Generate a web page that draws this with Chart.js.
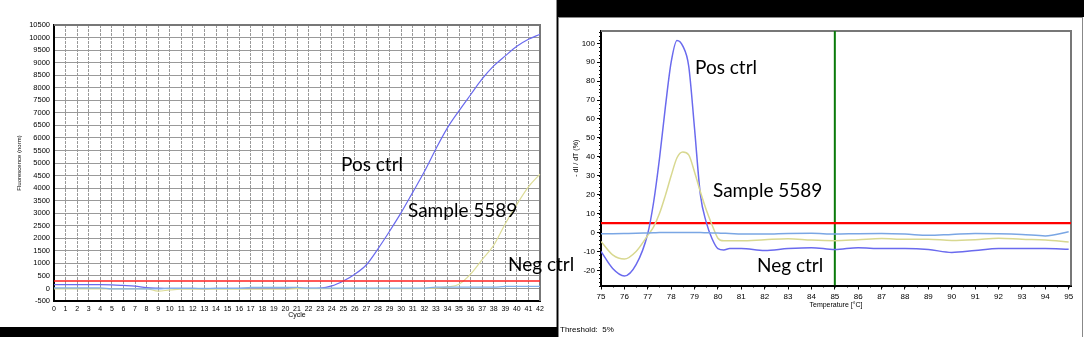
<!DOCTYPE html>
<html>
<head>
<meta charset="utf-8">
<script src="https://cdn.jsdelivr.net/npm/chart.js"></script>
<style>
  html, body { margin: 0; padding: 0; background: #000; width: 1084px; height: 337px; overflow: hidden; }
  #leftPanel { position: absolute; left: 0; top: 0; width: 556px; height: 327px; background: #fff; border-right: 1px solid #888; }
  #rightPanel { position: absolute; left: 558px; top: 17px; width: 526px; height: 320px; background: #fff; }
  #rightFrame { position: absolute; left: 0; top: 0; width: 523px; height: 320px; border-left: 1px solid #888; border-top: 1px solid #888; border-right: 1px solid #888; }
  canvas { position: absolute; }
  .note { position: absolute; font-family: Lato, "Open Sans", sans-serif; font-size: 19px; line-height: 19px; color: #000; white-space: nowrap; z-index: 5; }
  #threshold { position: absolute; left: 560px; top: 325px; font-family: "Liberation Sans", Arial, sans-serif; font-size: 8px; color: #000; z-index: 5; }
</style>
</head>
<body>
<div id="leftPanel"><canvas id="ampChart" width="556" height="327" style="left:0;top:0"></canvas></div>
<div id="rightPanel"><div id="rightFrame"></div><canvas id="meltChart" width="522" height="319" style="left:1px;top:1px"></canvas></div>

<div class="note" style="left:341px;top:154px">Pos ctrl</div>
<div class="note" style="left:408px;top:200px">Sample 5589</div>
<div class="note" style="left:508px;top:254px">Neg ctrl</div>
<div class="note" style="left:695px;top:57px">Pos ctrl</div>
<div class="note" style="left:713px;top:180px">Sample 5589</div>
<div class="note" style="left:757px;top:255px">Neg ctrl</div>
<div id="threshold">Threshold:&nbsp; 5%</div>

<script>
// amplification plot (left)
var cycles = [];
for (var i = 0; i <= 42; i++) cycles.push(String(i));

var posAmp = [150, 150, 150, 150, 150, 145, 120, 90, 30, 10, 0, 0, 0, -20, 0, 0, 0, 0, 0, 0, 0, 0, 5, 15,
    100, 300, 570, 945, 1580, 2280, 3020, 3830, 4650, 5560, 6400, 7080, 7720, 8350, 8870, 9270, 9650, 9930, 10130];
var sampleAmp = [-15, -15, -15, -15, -15, -15, -15, -15, -15, -110, -60, -30, -30, -30, -30, -30, -30, -30, -30, -30, -30,
    -10, -10, -10, -10, -10, -10, -10, -10, -10, -10, -10, 0, 20, 60, 170, 570, 1150, 1720, 2580, 3350, 4050, 4560];
var negAmp = [20, 20, 20, 20, 20, -20, -20, -20, -20, -20, 0, 0, 0, 0, 0, 0, 0, 40, 40, 40, 40, 40,
    10, 10, 10, 10, 10, 10, 10, 10, 10, 10, 10, 50, 50, 50, 50, 50, 50, 80, 80, 80, 80];
var ampThreshold = 300;

// melt curve (right)
var temps = [75, 75.5, 76, 76.5, 77, 77.25, 77.5, 77.75, 78, 78.25, 78.5, 78.75, 79, 79.25, 79.5, 79.75,
    80, 80.25, 80.5, 81, 82, 83, 84, 85, 86, 87, 88, 89, 90, 91, 92, 93, 94, 95];
var posMelt = [-10, -19, -23, -17, -0.5, 16, 39, 66, 90, 101.5, 98.5, 88, 55, 20, 5.5, -3.3,
    -8.5, -9.2, -8.5, -8.5, -9.5, -8.5, -8, -9, -8, -8.5, -8.5, -9, -10.5, -9.5, -8.5, -8.5, -8.5, -8.8];
var sampleMelt = [-4.7, -11.8, -14, -10, -1.5, 3, 10, 19.5, 30, 39.5, 42.5, 41, 32, 21.5, 12, 4,
    -3, -4.4, -4.4, -4.4, -3.8, -3.3, -4, -4.3, -3.8, -3.2, -3.6, -3.5, -4.2, -3.8, -3, -3.6, -4, -5];
var negMelt = [-0.7, -0.6, -0.5, -0.4, -0.2, -0.1, 0, 0, 0, 0, 0, 0, 0, 0, -0.1, -0.2,
    -0.3, -0.4, -0.5, -0.8, -0.8, -0.5, -0.4, -0.8, -0.6, -0.5, -0.8, -1.5, -1, -0.5, -0.6, -1, -1.8, 0.4];
var meltThreshold = 5;
var meltMarker = 85;

Chart.defaults.font.family = '"Liberation Sans", Arial, sans-serif';
Chart.defaults.color = '#000';

// grey top / right edge of the plot box
var framePlugin = {
    id: 'frame',
    beforeDatasetsDraw: function (chart, args, opts) {
        var ctx = chart.ctx, a = chart.chartArea;
        ctx.save();
        ctx.strokeStyle = opts.color || '#777';
        ctx.lineWidth = opts.width || 2;
        ctx.beginPath();
        ctx.moveTo(a.left, a.top);
        ctx.lineTo(a.right, a.top);
        ctx.lineTo(a.right, a.bottom);
        ctx.stroke();
        ctx.restore();
    }
};

// small minor ticks outside the axes of the melt plot
var minorTicks = {
    id: 'minorTicks',
    afterDraw: function (chart, args, opts) {
        if (!opts.enabled) return;
        var ctx = chart.ctx, x = chart.scales.x, y = chart.scales.y, a = chart.chartArea;
        ctx.save();
        ctx.strokeStyle = '#000';
        ctx.lineWidth = 1;
        ctx.beginPath();
        for (var t = x.min; t <= x.max; t += 0.5) {
            var px = Math.round(x.getPixelForValue(t)) + 0.5;
            ctx.moveTo(px, a.bottom);
            ctx.lineTo(px, a.bottom + 2);
        }
        for (var v = -28; v <= y.max; v += 2) {
            var py = Math.round(y.getPixelForValue(v)) + 0.5;
            ctx.moveTo(a.left - 2, py);
            ctx.lineTo(a.left, py);
        }
        ctx.stroke();
        ctx.restore();
    }
};

function flat(value, n) {
    var out = [];
    for (var i = 0; i < n; i++) out.push(value);
    return out;
}

new Chart(document.getElementById('ampChart').getContext('2d'), {
    type: 'line',
    data: {
        labels: cycles,
        datasets: [
            { label: 'Threshold', data: flat(ampThreshold, cycles.length), borderColor: '#ff2020', borderWidth: 1.6 },
            { label: 'Neg ctrl', data: negAmp, borderColor: '#82b2ea', borderWidth: 1.2 },
            { label: 'Sample 5589', data: sampleAmp, borderColor: '#dcdc96', borderWidth: 1.2 },
            { label: 'Pos ctrl', data: posAmp, borderColor: '#6a6aee', borderWidth: 1.2 }
        ]
    },
    options: {
        responsive: false,
        animation: false,
        devicePixelRatio: 1,
        elements: { point: { radius: 0 }, line: { cubicInterpolationMode: 'monotone' } },
        layout: { padding: { left: 16, top: 25, right: 16, bottom: 8 } },
        plugins: { legend: { display: false }, tooltip: { enabled: false }, frame: { color: '#777', width: 2 }, minorTicks: { enabled: false } },
        scales: {
            x: {
                type: 'category',
                offset: false,
                afterFit: function (s) { s.height = 18; },
                grid: { color: '#999', borderDash: [1, 2], drawTicks: false },
                border: { color: '#000', width: 2, dash: [3, 1] },
                ticks: { autoSkip: false, maxRotation: 0, padding: 4, font: { size: 7 } },
                title: { display: true, text: 'Cycle', padding: 0, font: { size: 7 } }
            },
            y: {
                min: -500,
                max: 10500,
                afterFit: function (s) { s.width = 38; },
                grid: { color: '#999', borderDash: [1, 2], drawTicks: false },
                border: { color: '#000', width: 2 },
                ticks: { stepSize: 500, padding: 4, font: { size: 7.5 }, callback: function (v) { return String(v); } },
                title: { display: true, text: 'Fluorescence (norm)', padding: 0, font: { size: 6 } }
            }
        }
    },
    plugins: [framePlugin, minorTicks]
});

function points(xs, ys) {
    return xs.map(function (x, i) { return { x: x, y: ys[i] }; });
}

new Chart(document.getElementById('meltChart').getContext('2d'), {
    type: 'line',
    data: {
        datasets: [
            { label: 'Neg ctrl', data: points(temps, negMelt), borderColor: '#7aa6e4', borderWidth: 1.5 },
            { label: 'Sample 5589', data: points(temps, sampleMelt), borderColor: '#d8d890', borderWidth: 1.5 },
            { label: 'Pos ctrl', data: points(temps, posMelt), borderColor: '#6a6aee', borderWidth: 1.5 },
            { label: 'Threshold', data: points([75, 95.1], [meltThreshold, meltThreshold]), borderColor: '#ff0000', borderWidth: 2.2 },
            { label: 'Marker', data: points([meltMarker, meltMarker], [-28, 106.5]), borderColor: '#0a7a0a', borderWidth: 2, cubicInterpolationMode: 'default', tension: 0 }
        ]
    },
    options: {
        responsive: false,
        animation: false,
        devicePixelRatio: 1,
        elements: { point: { radius: 0 }, line: { cubicInterpolationMode: 'monotone' } },
        layout: { padding: { left: 13, top: 13, right: 10, bottom: 28 } },
        plugins: { legend: { display: false }, tooltip: { enabled: false }, frame: { color: '#777', width: 2 }, minorTicks: { enabled: true } },
        scales: {
            x: {
                type: 'linear',
                min: 75,
                max: 95.1,
                afterFit: function (s) { s.height = 23.5; },
                grid: { drawOnChartArea: false, drawTicks: true, tickLength: 4, color: '#000' },
                border: { color: '#000', width: 2 },
                ticks: { stepSize: 1, includeBounds: false, maxRotation: 0, padding: 2, font: { size: 8 } },
                title: { display: true, text: 'Temperature [°C]', padding: 0, font: { size: 7 } }
            },
            y: {
                min: -28,
                max: 106.5,
                afterFit: function (s) { s.width = 29; },
                grid: { drawOnChartArea: false, drawTicks: true, tickLength: 4, color: '#000' },
                border: { color: '#000', width: 2 },
                ticks: { stepSize: 10, includeBounds: false, padding: 2, font: { size: 8 } },
                title: { display: true, text: '- dI / dT (%)', padding: 0, font: { size: 7 } }
            }
        }
    },
    plugins: [framePlugin, minorTicks]
});
</script>
</body>
</html>
